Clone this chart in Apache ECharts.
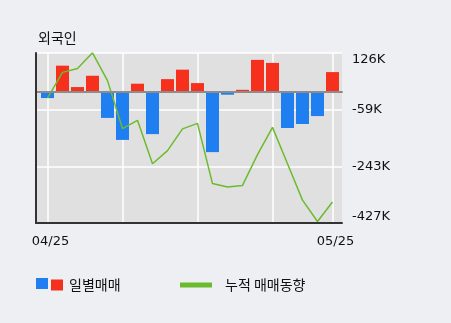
<!DOCTYPE html>
<html><head><meta charset="utf-8">
<script src="https://cdn.jsdelivr.net/npm/echarts@6/dist/echarts.min.js"></script>
<style>html,body{margin:0;padding:0;background:#eeeff3;}#c{width:451px;height:323px;}</style>
</head><body><div id="c"></div>
<script>
const dates = ['04/25','04/26','04/27','04/30','05/02','05/03','05/04','05/08','05/09','05/10','05/11','05/14','05/15','05/16','05/17','05/18','05/21','05/23','05/24','05/25'];
const daily = [-21, 85, 15, 52, -86, -158, 26, -139, 41, 72, 28, -198, -10, 6, 104, 94, -119, -106, -80, 64];
const cumulative = [-21, 63, 76, 127, 36, -121, -94, -236, -193, -122, -104, -301, -312, -307, -206, -117, -236, -355, -425, -361];
const yTickLabels = ['-427K', '-243K', '-59K', '126K'];
const yMin = -430, yMax = 126.5, yInterval = 185.5;

const RED = '#f5311e', BLUE = '#1f7ef0', GREEN = '#6cbb2e';
const numFont = 'DejaVu Sans';
const korFont = '"Noto Sans CJK KR"';

const chart = echarts.init(document.getElementById('c'));
chart.setOption({
  backgroundColor: '#eeeff3',
  animation: false,
  title: { text: '외국인', left: 33, top: 26, textStyle: { fontFamily: korFont, fontSize: 14, fontWeight: 'normal', color: '#111' } },
  legend: [
    { data: [{ name: '일별매매', itemStyle: { color: BLUE } }], left: 36, top: 278, itemWidth: 12, itemHeight: 11, icon: 'rect', formatter: () => '', selectedMode: false, itemGap: 0, padding: 0 },
    { data: [{ name: '일별매매', itemStyle: { color: RED } }], left: 51, top: 278, itemWidth: 12, itemHeight: 11, icon: 'rect', itemGap: 0, padding: 0, selectedMode: false,
      textStyle: { fontFamily: korFont, fontSize: 14, color: '#111', padding: [0, 0, 0, 1] } },
    { data: [{ name: '누적 매매동향', itemStyle: { color: GREEN } }], left: 180, top: 278, itemWidth: 32, itemHeight: 5, icon: 'rect', itemGap: 0, padding: 0, selectedMode: false,
      textStyle: { fontFamily: korFont, fontSize: 14, color: '#111', padding: [0, 0, 0, 8] } }
  ],
  grid: [
    { left: 36, top: 53, width: 306, height: 170, show: true, backgroundColor: '#e0e0e0', borderWidth: 0 },
    { left: 47.5, top: 53, width: 285, height: 170 }
  ],
  xAxis: [
    { gridIndex: 0, type: 'value', min: 0, max: 1, position: 'bottom', axisLine: { show: true, onZero: false, lineStyle: { color: '#333', width: 2 } }, axisTick: { show: false }, axisLabel: { show: false }, splitLine: { show: false }, z: 6 },
    { gridIndex: 0, type: 'value', min: 0, max: 1, position: 'top', axisLine: { show: true, onZero: true, onZeroAxisIndex: 0, lineStyle: { color: '#8c8c8c', width: 2 } }, axisTick: { show: false }, axisLabel: { show: false }, splitLine: { show: false }, z: 5 },
    { gridIndex: 1, type: 'category', data: dates, boundaryGap: false,
      axisLine: { show: false, onZero: false }, axisTick: { show: false },
      axisLabel: { interval: (i) => i === 0 || i === dates.length - 1, fontFamily: numFont, fontSize: 13, color: '#111', margin: 12, padding: [0, 0, 0, 6] },
      splitLine: { show: true, interval: (i) => i % 5 === 0 || i === dates.length - 1, lineStyle: { color: '#ffffff', width: 1.5 } } }
  ],
  yAxis: [
    { gridIndex: 0, type: 'value', position: 'right', min: yMin, max: yMax, interval: yInterval,
      axisLine: { show: false, onZero: false }, axisTick: { show: false },
      axisLabel: { margin: 10, fontFamily: numFont, fontSize: 13, color: '#111',
        formatter: (v) => yTickLabels[Math.round((v - yMin) / yInterval)],
        verticalAlignMaxLabel: 'top', verticalAlignMinLabel: 'bottom' },
      splitLine: { show: true, lineStyle: { color: '#ffffff', width: 1.5 } } },
    { gridIndex: 0, type: 'value', position: 'left', min: 0, max: 1,
      axisLine: { show: true, onZero: false, lineStyle: { color: '#333', width: 2 } }, axisTick: { show: false }, axisLabel: { show: false }, splitLine: { show: false }, z: 6 },
    { gridIndex: 1, type: 'value', min: yMin, max: yMax, interval: yInterval, show: false }
  ],
  series: [
    { name: '일별매매', type: 'bar', xAxisIndex: 2, yAxisIndex: 2, data: daily, barWidth: 13, clip: false,
      itemStyle: { color: (p) => p.value >= 0 ? RED : BLUE } },
    { name: '누적 매매동향', type: 'line', xAxisIndex: 2, yAxisIndex: 2, data: cumulative, showSymbol: false, symbol: 'none',
      lineStyle: { color: GREEN, width: 1.5 }, itemStyle: { color: GREEN }, z: 4 }
  ]
});
</script></body></html>
